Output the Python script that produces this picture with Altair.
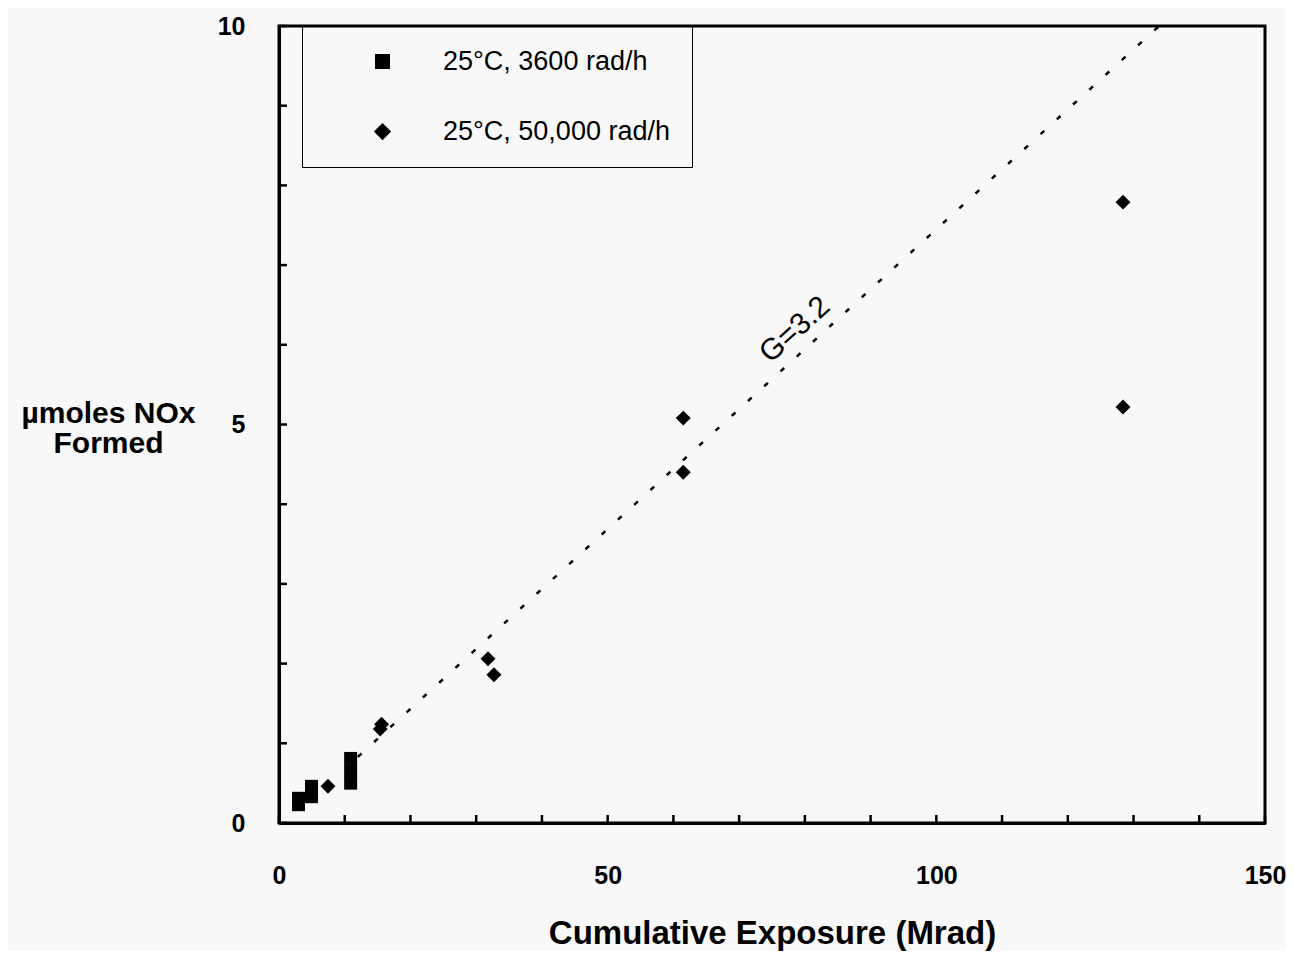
import altair as alt
import pandas as pd

# ---- data ----
series_names = ["25°C, 3600 rad/h", "25°C, 50,000 rad/h"]

sq_x = [2.97, 2.97, 4.94, 4.94, 10.9, 10.9, 10.9]
sq_y = [0.31, 0.23, 0.46, 0.33, 0.81, 0.65, 0.50]

di_x = [7.45, 15.6, 15.4, 31.8, 32.7, 61.5, 61.5, 128.4, 128.4]
di_y = [0.46, 1.24, 1.18, 2.06, 1.86, 5.08, 4.40, 7.79, 5.22]

fit_x = [12.0, 133.9]
fit_y = [0.83, 10.0]

note_x = [78.5]
note_y = [6.19]
note_text = ["G=3.2"]

x_ticks = list(range(0, 151, 10))
y_ticks = list(range(0, 11, 1))
x_labels = [0, 50, 100, 150]
y_labels = [0, 5, 10]

W, H = 986, 797
FONT = "Liberation Sans"

pts = pd.DataFrame(
    {
        "x": sq_x + di_x,
        "y": sq_y + di_y,
        "series": [series_names[0]] * len(sq_x) + [series_names[1]] * len(di_x),
    }
)
fit = pd.DataFrame({"x": fit_x, "y": fit_y})
note = pd.DataFrame({"x": note_x, "y": note_y, "t": note_text})
xt = pd.DataFrame({"x": x_ticks})
yt = pd.DataFrame({"y": y_ticks})

xscale = alt.Scale(domain=[0, 150], nice=False, zero=False)
yscale = alt.Scale(domain=[0, 10], nice=False, zero=False)

x_axis = alt.Axis(
    values=x_labels,
    ticks=False,
    tickSize=0,
    grid=False,
    domainColor="black",
    domainWidth=3,
    labelFont=FONT,
    labelFontSize=25,
    labelFontWeight="bold",
    labelColor="black",
    labelPadding=40,
    labelFlush=False,
    title="Cumulative Exposure (Mrad)",
    titleFont=FONT,
    titleFontSize=33,
    titleFontWeight="bold",
    titleColor="black",
    titleBaseline="alphabetic",
    titleY=120,
)
y_axis = alt.Axis(
    values=y_labels,
    ticks=False,
    tickSize=0,
    grid=False,
    domainColor="black",
    domainWidth=3,
    labelFont=FONT,
    labelFontSize=25,
    labelFontWeight="bold",
    labelColor="black",
    labelPadding=34,
    labelFlush=False,
    title=["µmoles NOx", "Formed"],
    titleFont=FONT,
    titleFontSize=30,
    titleFontWeight="bold",
    titleColor="black",
    titleAngle=0,
    titleAlign="center",
    titleBaseline="alphabetic",
    titleLineHeight=30,
    titleX=-171,
    titleY=396,
)


def X(field):
    return alt.X(field, type="quantitative", scale=xscale, axis=x_axis)


def Y(field):
    return alt.Y(field, type="quantitative", scale=yscale, axis=y_axis)


square_path = "M-1,-1L1,-1L1,1L-1,1Z"
diamond_path = "M0,-1.15L1.15,0L0,1.15L-1.15,0Z"

points = (
    alt.Chart(pts)
    .mark_point(filled=True, opacity=1, color="black", size=169)
    .encode(
        x=X("x"),
        y=Y("y"),
        shape=alt.Shape(
            "series:N",
            scale=alt.Scale(domain=series_names, range=[square_path, diamond_path]),
            legend=alt.Legend(
                title=None,
                orient="none",
                legendX=23,
                legendY=0,
                strokeColor="black",
                padding=22,
                symbolOffset=45,
                symbolSize=225,
                symbolFillColor="black",
                symbolStrokeColor="black",
                labelOffset=47,
                labelFont=FONT,
                labelFontSize=27,
                labelColor="black",
                labelLimit=400,
                rowPadding=42,
            ),
        ),
    )
)

line = (
    alt.Chart(fit)
    .mark_line(color="black", strokeWidth=2.5, strokeDash=[5, 17])
    .encode(x=X("x"), y=Y("y"))
)

label = (
    alt.Chart(note)
    .mark_text(angle=318, font=FONT, fontSize=30, color="black", align="center", baseline="middle")
    .encode(x=X("x"), y=Y("y"), text="t:N")
)

xtick_rules = (
    alt.Chart(xt)
    .mark_rule(color="black", strokeWidth=2.5)
    .encode(x=X("x"), y=alt.value(H - 8), y2=alt.value(H))
)

ytick_rules = (
    alt.Chart(yt)
    .mark_rule(color="black", strokeWidth=2.5)
    .encode(y=Y("y"), x=alt.value(0), x2=alt.value(8))
)

chart = (
    alt.layer(line, xtick_rules, ytick_rules, points, label)
    .properties(
        width=W,
        height=H,
        background="#f8f8f8",
        autosize=alt.AutoSizeParams(type="none"),
        padding={"left": 271, "top": 18, "right": 21, "bottom": 128},
    )
    .configure_view(stroke="black", strokeWidth=3)
)

chart.save("out.html", embed_options={"renderer": "svg", "actions": False})
